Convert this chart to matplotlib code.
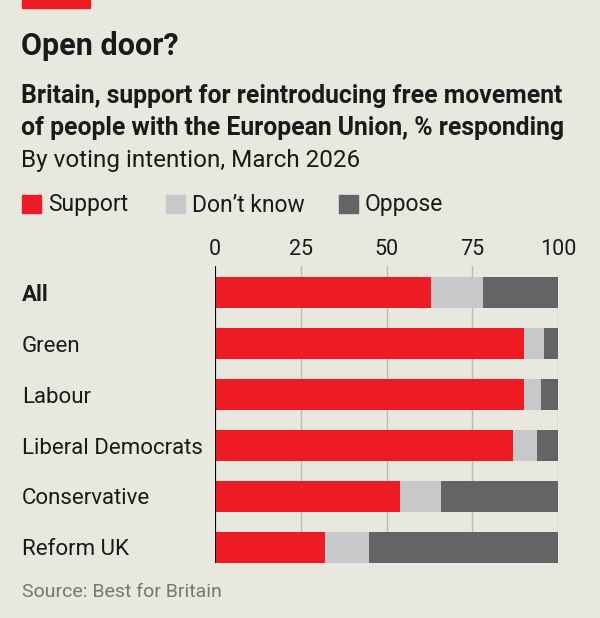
import matplotlib.pyplot as plt
import matplotlib.patches as patches
import numpy as np

# dane
categories = ["All", "Green", "Labour", "Liberal Democrats", "Conservative", "Reform UK"]
support = [63, 90, 90, 87, 54, 32]
dont_know = [15, 6, 5, 7, 12, 13]
oppose = [22, 4, 5, 6, 34, 55]
series_names = ["Support", "Don\u2019t know", "Oppose"]
ticks = [0, 25, 50, 75, 100]

bg = "#E9E8DF"
colors = ["#ED1C24", "#C7C8CA", "#636466"]

plt.rcParams['font.family'] = ['Roboto', 'DejaVu Sans']

fig = plt.figure(figsize=(6, 6.18), dpi=100, facecolor=bg)
W, H = 600, 618


def fy(px):
    return 1 - px / H


# czerwony pasek na górze
fig.patches.append(patches.Rectangle((22 / W, fy(8)), 68 / W, 8 / H,
                                     transform=fig.transFigure, color=colors[0]))

# tytuły
fig.text(21 / W, fy(46), "Open door?", fontsize=22, fontweight='bold', va='center', color='#1a1a1a')
fig.text(21 / W, fy(96), "Britain, support for reintroducing free movement",
         fontsize=17.8, fontweight='bold', va='center', color='#1a1a1a')
fig.text(21 / W, fy(128), "of people with the European Union, % responding",
         fontsize=17.8, fontweight='bold', va='center', color='#1a1a1a')
fig.text(21 / W, fy(160), "By voting intention, March 2026", fontsize=17.5, va='center', color='#1a1a1a')

# legenda
leg_x = [22, 166, 339]
for i, name in enumerate(series_names):
    fig.patches.append(patches.Rectangle((leg_x[i] / W, fy(213)), 19 / W, 18 / H,
                                         transform=fig.transFigure, color=colors[i]))
    fig.text((leg_x[i] + 26) / W, fy(205), name, fontsize=16.5, va='center', color='#1a1a1a')

# wykres
ax = fig.add_axes([215 / W, fy(563), 343 / W, 297 / H])
ax.set_facecolor(bg)
y = np.arange(len(categories))
left = np.zeros(len(categories))
for vals, c in zip([support, dont_know, oppose], colors):
    ax.barh(y, vals, left=left, height=0.61, color=c, zorder=3)
    left += np.array(vals)

ax.set_xlim(0, 100)
ax.set_ylim(5.31, -0.53)
ax.set_xticks(ticks)
ax.set_xticklabels([str(t) for t in ticks])
ax.xaxis.tick_top()
ax.tick_params(axis='x', length=0, labelsize=15.5, pad=4, colors='#1a1a1a')
ax.grid(axis='x', color='#BDBCB4', linewidth=1, zorder=0)
ax.axvline(0, color='black', linewidth=1.5, zorder=4)
for s in ax.spines.values():
    s.set_visible(False)

ax.set_yticks(y)
ax.set_yticklabels(categories)
ax.tick_params(axis='y', length=0, labelsize=16, pad=0, colors='#1a1a1a')
for lab in ax.get_yticklabels():
    lab.set_horizontalalignment('left')
    lab.set_x(-(215 - 22) / 343)
ax.get_yticklabels()[0].set_fontweight('bold')

fig.text(22 / W, fy(592), "Source: Best for Britain", fontsize=14, va='center', color='#767676')

plt.savefig("out.png", dpi=100, facecolor=bg)
